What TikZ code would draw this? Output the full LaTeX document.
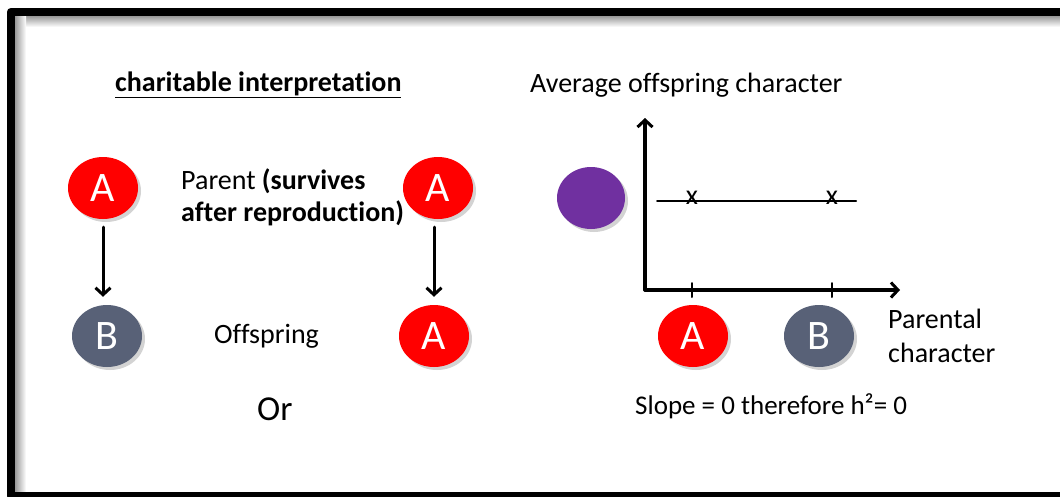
\documentclass[tikz,border=0pt]{standalone}
\usepackage{fontspec}
\setmainfont{Carlito}[Ligatures=NoCommon]
\usetikzlibrary{shapes.geometric,shadows,arrows.meta}
\definecolor{alleleA}{RGB}{255,0,0}
\definecolor{alleleB}{RGB}{88,97,119}
\definecolor{blend}{RGB}{112,48,160}
\begin{document}
\begin{tikzpicture}[x=1pt,y=-1pt,line join=round,line cap=round,
    >={Straight Barb[length=7pt,width=15pt,line width=3pt]},
    allele/.style={ellipse,minimum width=70pt,minimum height=62pt,inner sep=0pt,
      text=white,font=\fontsize{42}{44}\selectfont,
      drop shadow={shadow xshift=3pt,shadow yshift=-3pt,opacity=0.35}},
    txt/.style={anchor=base west,inner sep=0pt,font=\fontsize{28}{32}\selectfont},
    big/.style={txt,font=\fontsize{35}{38}\selectfont},
    axis/.style={line width=3.2pt,->},
    descent/.style={line width=3pt,->,shorten <=8pt,shorten >=8pt}]
  \useasboundingbox (0,0) rectangle (1060,496);
  \clip (0,0) rectangle (1060,496);
  % frame with its inner shade
  \shade[top color=black!40,bottom color=white] (15,16) rectangle (1070,27);
  \shade[left color=black!40,right color=white] (15,16) rectangle (26,492);
  \draw[line width=8.5pt] (1080,12) -- (11,12) -- (11,496) -- (1080,496);

  % left: parent / offspring pairs
  \node[txt,font=\bfseries\fontsize{28}{32}\selectfont] (title) at (115,91) {\underline{charitable interpretation}};
  \node[allele,fill=alleleA] (pA) at (103,188) {A};
  \node[allele,fill=alleleB] (oB) at (107,336) {B};
  \node[allele,fill=alleleA] (pA2) at (438,188) {A};
  \node[allele,fill=alleleA] (oA2) at (434,336) {A};
  \draw[descent] (pA.south) -- (pA.south |- oB.north);
  \draw[descent] (oA2.north |- pA2.south) -- (oA2.north);
  \node[txt] (parent) at (181,189) {Parent \textbf{(survives}};
  \node[txt] (parentb) at (181,221) {\textbf{after reproduction)}};
  \node[txt] (offspring) at (214,343) {Offspring};
  \node[big] (or) at (257,420) {Or};

  % right: regression of offspring on parent
  \coordinate (O) at (645,290);
  \coordinate (ytop) at (645,118);
  \coordinate (xend) at (900,290);
  \node[txt] (ylab) at (530,92) {Average offspring character};
  \draw[axis] (O) -- (ytop);
  \draw[axis] (O) -- (xend);
  \foreach \t in {692,832}
    \draw[line width=2pt] (\t,283) -- (\t,297);
  \coordinate (lineL) at (657,201);
  \coordinate (lineR) at (856,201);
  \draw[line width=2pt] (lineL) -- (lineR);
  \node[font=\fontsize{28}{28}\selectfont,inner sep=0pt] (xA) at (692,198) {x};
  \node[font=\fontsize{28}{28}\selectfont,inner sep=0pt] (xB) at (832,198) {x};
  \node[allele,fill=blend,minimum width=68pt] (mean) at (591,198) {};
  \node[allele,fill=alleleA] (gA) at (693,336) {A};
  \node[allele,fill=alleleB] (gB) at (819,336) {B};
  \node[txt] (xlab) at (888,328) {Parental};
  \node[txt] (xlabb) at (888,362) {character};
  \node[txt,font=\fontsize{27}{32}\selectfont] (slope) at (635,414) {Slope = 0 therefore h²= 0};
\end{tikzpicture}
\end{document}
